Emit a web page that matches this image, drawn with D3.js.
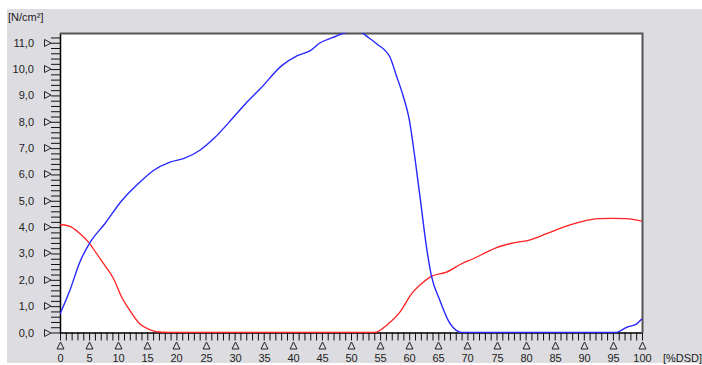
<!DOCTYPE html>
<html>
<head>
  <meta charset="utf-8">
  <title>force curve</title>
  <style type="text/css">
body{ margin:0; background:#fff; }
svg{ display:block; }
.lbl{ font-family:"Liberation Sans", Arial, sans-serif; font-size:11px; fill:#222; }
  </style>
</head>
<body>
<div id="chart"></div>
<script src="https://cdn.jsdelivr.net/npm/d3@7"></script>
<script type="text/javascript">
// blue curve (x in %DSD, value in N/cm²)
var blueX = [0,1.7,3.4,5.2,7.7,10.6,13.7,16,18.9,21.2,24.1,26.6,29.8,32.1,34.4,38.1,40.7,43,44.7,46.9,48.5,50,51.5,53,54.4,56.7,57.8,59,60,61,62,63,63.8,65.3,66.7,68.1,69,75,80,85,90,95.4,97.4,99.1,100];
var blueY = [0.7,1.6,2.67,3.43,4.13,5.0,5.7,6.14,6.47,6.6,6.93,7.4,8.17,8.74,9.25,10.13,10.5,10.7,11.0,11.2,11.35,11.4,11.4,11.2,10.96,10.45,9.75,8.95,8.1,6.6,4.9,3.2,2.17,1.2,0.46,0.08,0,0,0,0,0,0,0.2,0.33,0.52];
// red curve
var redX = [0,1.7,3.4,4.9,6.3,7.7,9.2,10.6,12,13.7,15.5,17.5,20,54.1,56.1,58.4,60.4,62.1,63.8,66.4,69,71,73.3,75,77.9,80.8,83.6,86.5,89.3,92.5,95,97.3,100];
var redY = [4.1,4.03,3.76,3.43,2.99,2.55,2.04,1.34,0.84,0.33,0.1,0.01,0,0,0.27,0.77,1.47,1.85,2.13,2.29,2.61,2.8,3.05,3.22,3.4,3.52,3.75,4.0,4.19,4.32,4.33,4.32,4.23];
var yTicks = [0,1,2,3,4,5,6,7,8,9,10,11];
var xTicks = [0,5,10,15,20,25,30,35,40,45,50,55,60,65,70,75,80,85,90,95,100];

var W = 702, H = 365;
var svg = d3.select("#chart").append("svg").attr("width", W).attr("height", H);

svg.append("rect").attr("x", 7).attr("y", 9).attr("width", W - 7).attr("height", 354)
  .attr("fill", "#dddde1");

var x = d3.scaleLinear().domain([0, 100]).range([60, 642]);
var y = d3.scaleLinear().domain([0, 11.37]).range([332.5, 33]);

// plot area
svg.append("rect").attr("x", 60).attr("y", 33).attr("width", 582).attr("height", 299.5)
  .attr("fill", "#fff");

svg.append("defs").append("clipPath").attr("id", "clip")
  .append("rect").attr("x", 60).attr("y", 33).attr("width", 582).attr("height", 300);

// minor ticks via d3 axes
var yMinor = d3.range(0, 11.3, 0.2);
svg.append("g").attr("transform", "translate(60,0)")
  .call(d3.axisLeft(y).tickValues(yMinor).tickSize(9).tickFormat(""))
  .call(function (g) { g.select(".domain").remove(); g.selectAll("line").attr("stroke", "#111"); });

svg.append("g").attr("transform", "translate(0,332.5)")
  .call(d3.axisBottom(x).tickValues(d3.range(0, 101, 1)).tickSize(8).tickFormat(""))
  .call(function (g) { g.select(".domain").remove(); g.selectAll("line").attr("stroke", "#111"); });

// major markers: triangles + labels
var fmt = function (v) { return d3.format(".1f")(v).replace(".", ","); };
var yg = svg.append("g").selectAll("g").data(yTicks).enter().append("g")
  .attr("transform", function (d) { return "translate(0," + Math.round(y(d)) + ")"; });
yg.append("path").attr("d", "M44.5,-3.5L44.5,3.5L51,0Z")
  .attr("fill", "none").attr("stroke", "#222").attr("stroke-width", 1);
yg.append("text").attr("class", "lbl").attr("x", 34).attr("y", 4)
  .attr("text-anchor", "end").text(fmt);

var xg = svg.append("g").selectAll("g").data(xTicks).enter().append("g")
  .attr("transform", function (d) { return "translate(" + (Math.round(x(d)) + 0.5) + ",0)"; });
xg.append("path").attr("d", "M0,342L-3.5,349L3.5,349Z")
  .attr("fill", "none").attr("stroke", "#222").attr("stroke-width", 1);
xg.append("text").attr("class", "lbl").attr("x", 0).attr("y", 362)
  .attr("text-anchor", "middle").text(function (d) { return d; });

// axis lines and frame
svg.append("line").attr("x1", 60.5).attr("x2", 60.5).attr("y1", 33).attr("y2", 333)
  .attr("stroke", "#000").attr("stroke-width", 1.5);
svg.append("line").attr("x1", 60).attr("x2", 643).attr("y1", 333).attr("y2", 333)
  .attr("stroke", "#000").attr("stroke-width", 1.5);
svg.append("path").attr("d", "M60,33.5L642.5,33.5L642.5,333")
  .attr("fill", "none").attr("stroke", "#555").attr("stroke-width", 2);

// curves
var line = d3.line().x(function (d) { return x(d[0]); }).y(function (d) { return y(d[1]); })
  .curve(d3.curveMonotoneX);
var lines = svg.append("g").attr("clip-path", "url(#clip)");
lines.append("path").datum(d3.zip(redX, redY)).attr("d", line)
  .attr("fill", "none").attr("stroke", "#ff2020").attr("stroke-width", 1.3);
lines.append("path").datum(d3.zip(blueX, blueY)).attr("d", line)
  .attr("fill", "none").attr("stroke", "#2828ff").attr("stroke-width", 1.4);

// unit labels
svg.append("text").attr("class", "lbl").attr("x", 8).attr("y", 21).text("[N/cm²]");
svg.append("text").attr("class", "lbl").attr("x", 663).attr("y", 362).text("[%DSD]");
</script>
</body>
</html>
